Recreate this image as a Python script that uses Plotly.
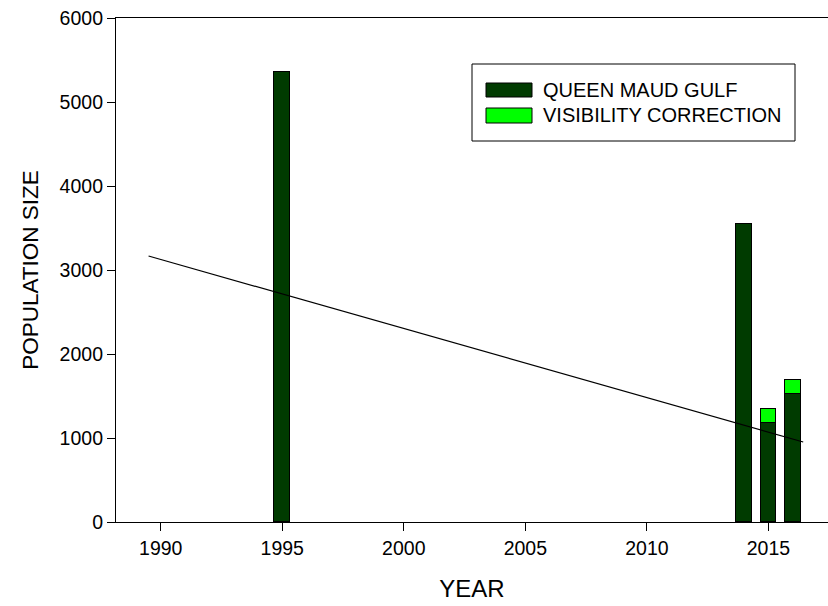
import plotly.graph_objects as go

years = [1995, 2014, 2015, 2016]
queen_maud = [5360, 3550, 1180, 1520]
correction = [0, 0, 165, 165]
trend_x = [1989.5, 2016.43]
trend_y = [3167, 952]
x_ticks = [1990, 1995, 2000, 2005, 2010, 2015]
y_ticks = [0, 1000, 2000, 3000, 4000, 5000, 6000]

DARK = "#003b00"
LIGHT = "#00ff00"
FONT = "Liberation Sans, Arial, sans-serif"

L, T, R, B = 116, 18, 0, 84
W, H = 828, 606
PW = W - L - R
PH = H - T - B


def px(x):
    return (x - L) / PW


def py(y):
    return (H - B - y) / PH


fig = go.Figure()
fig.add_trace(go.Bar(x=years, y=queen_maud, width=0.64, marker=dict(color=DARK, line=dict(color="black", width=1)),
                     name="QUEEN MAUD GULF", showlegend=False))
fig.add_trace(go.Bar(x=years, y=correction, width=0.64, marker=dict(color=LIGHT, line=dict(color="black", width=1)),
                     name="VISIBILITY CORRECTION", showlegend=False))
fig.add_trace(go.Scatter(x=trend_x, y=trend_y, mode="lines", line=dict(color="black", width=1.2), showlegend=False))

# legend box
fig.add_shape(type="rect", xref="paper", yref="paper", x0=px(472), x1=px(795),
              y0=py(141), y1=py(64), line=dict(color="black", width=1), fillcolor="white")
legend_items = [("QUEEN MAUD GULF", DARK, 83, 97), ("VISIBILITY CORRECTION", LIGHT, 108, 123)]
for label, col, ya, yb in legend_items:
    fig.add_shape(type="rect", xref="paper", yref="paper", x0=px(486), x1=px(532),
                  y0=py(yb), y1=py(ya), line=dict(color="black", width=1), fillcolor=col)
    fig.add_annotation(xref="paper", yref="paper", x=px(541), y=py((ya + yb) / 2), text=label,
                       showarrow=False, xanchor="left", yanchor="middle", font=dict(family=FONT, size=20, color="black"))

fig.update_layout(
    width=W, height=H, barmode="stack", bargap=0,
    plot_bgcolor="white", paper_bgcolor="white",
    margin=dict(l=L, r=R, t=T, b=B),
    font=dict(family=FONT, size=19.5, color="black"),
    xaxis=dict(range=[1988.16, 2017.45], tickvals=x_ticks, ticks="outside", ticklen=8, tickwidth=1, tickcolor="black",
               showline=True, linecolor="black", linewidth=1.2, mirror=True, showgrid=False, zeroline=False,
               title=dict(text="YEAR", font=dict(size=24), standoff=22), tickfont=dict(size=19.5)),
    yaxis=dict(range=[0, 6000], tickvals=y_ticks, ticks="outside", ticklen=8, tickwidth=1, tickcolor="black",
               showline=True, linecolor="black", linewidth=1.2, mirror=False, showgrid=False, zeroline=False,
               title=dict(text="POPULATION SIZE", font=dict(size=22.5), standoff=14), tickfont=dict(size=19.5)),
)
fig.write_html("out.html", config={"displayModeBar": False},
               post_script="document.body.style.margin='0';document.body.style.overflow='hidden';")
